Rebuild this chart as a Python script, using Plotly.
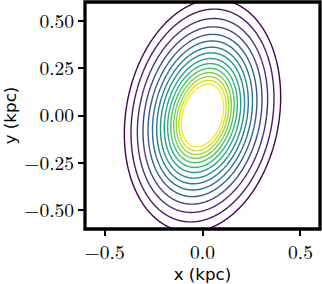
import numpy as np
import plotly.graph_objects as go

# Semi-major axes (kpc) of the iso-density contours, innermost first
contour_major_kpc = [0.170, 0.190, 0.210, 0.231, 0.254, 0.279, 0.306, 0.336,
                     0.366, 0.399, 0.434, 0.474, 0.518, 0.568, 0.620]
# Shape of the innermost and outermost contour: tilt of major axis from +y towards +x (deg), minor/major ratio
tilt_deg = [15.4, 9.8]
axis_ratio = [0.60, 0.63]

x_ticks = [-0.5, 0.0, 0.5]
y_ticks = [-0.50, -0.25, 0.00, 0.25, 0.50]
x_range = [-0.6, 0.6]
y_range = [-0.6, 0.6]

# ---- build the field whose level sets are the contours above ----
gx = np.linspace(x_range[0], x_range[1], 361)
gy = np.linspace(y_range[0], y_range[1], 361)
X, Y = np.meshgrid(gx, gy)
ln_r = np.log(np.array(contour_major_kpc))
n = len(contour_major_kpc)


def shape_at(a):
    t = np.clip((np.log(np.maximum(a, 1e-4)) - ln_r[0]) / (ln_r[-1] - ln_r[0]), -0.6, 1.6)
    phi = np.deg2rad(tilt_deg[0] + (tilt_deg[1] - tilt_deg[0]) * t)
    q = axis_ratio[0] + (axis_ratio[1] - axis_ratio[0]) * t
    return phi, q


def ell_radius(phi, q):
    u = X * np.sin(phi) + Y * np.cos(phi)
    v = X * np.cos(phi) - Y * np.sin(phi)
    return np.sqrt(u ** 2 + (v / q) ** 2)


a = ell_radius(np.deg2rad(np.mean(tilt_deg)), np.mean(axis_ratio))
for _ in range(8):
    phi, q = shape_at(a)
    a = ell_radius(phi, q)

lev = np.arange(n, dtype=float)[::-1]  # innermost contour = highest level
la = np.log(np.maximum(a, 1e-4))
z = np.interp(la, ln_r, lev)
lo = la < ln_r[0]
z[lo] = lev[0] + (ln_r[0] - la[lo]) * (lev[0] - lev[1]) / (ln_r[1] - ln_r[0])
hi = la > ln_r[-1]
z[hi] = lev[-1] - (la[hi] - ln_r[-1]) * (lev[-2] - lev[-1]) / (ln_r[-1] - ln_r[-2])

fig = go.Figure(go.Contour(
    x=gx, y=gy, z=z,
    contours=dict(start=0, end=n - 1, size=1, coloring='lines'),
    line=dict(width=1.4),
    colorscale='Viridis', showscale=False, hoverinfo='skip',
))

tick_font = dict(family="Latin Modern Roman", size=19.5, color='black')
title_font = dict(family="DejaVu Sans", size=16.7, color='black')

fig.update_layout(
    width=322, height=284,
    margin=dict(l=85, r=2, t=2, b=55),
    paper_bgcolor='white', plot_bgcolor='white',
    showlegend=False,
    xaxis=dict(range=x_range, tickvals=x_ticks, tickformat='.1f', ticks='outside',
               ticklen=6, tickwidth=1.7, tickcolor='black', showgrid=False, zeroline=False,
               showline=False, tickfont=tick_font, automargin=False,
               title=dict(text='x (kpc)', font=title_font, standoff=4)),
    yaxis=dict(range=y_range, tickvals=y_ticks, tickformat='.2f', ticks='outside',
               ticklen=6, tickwidth=1.7, tickcolor='black', showgrid=False, zeroline=False,
               showline=False, tickfont=tick_font, automargin=False,
               title=dict(text='y (kpc)', font=title_font, standoff=9)),
    shapes=[dict(type='rect', xref='paper', yref='paper', x0=0, x1=1, y0=0, y1=1,
                 line=dict(color='black', width=3.3), layer='above')],
)

fig.write_html('out.html', post_script="document.body.style.margin='0px';",
               config={'displayModeBar': False})
